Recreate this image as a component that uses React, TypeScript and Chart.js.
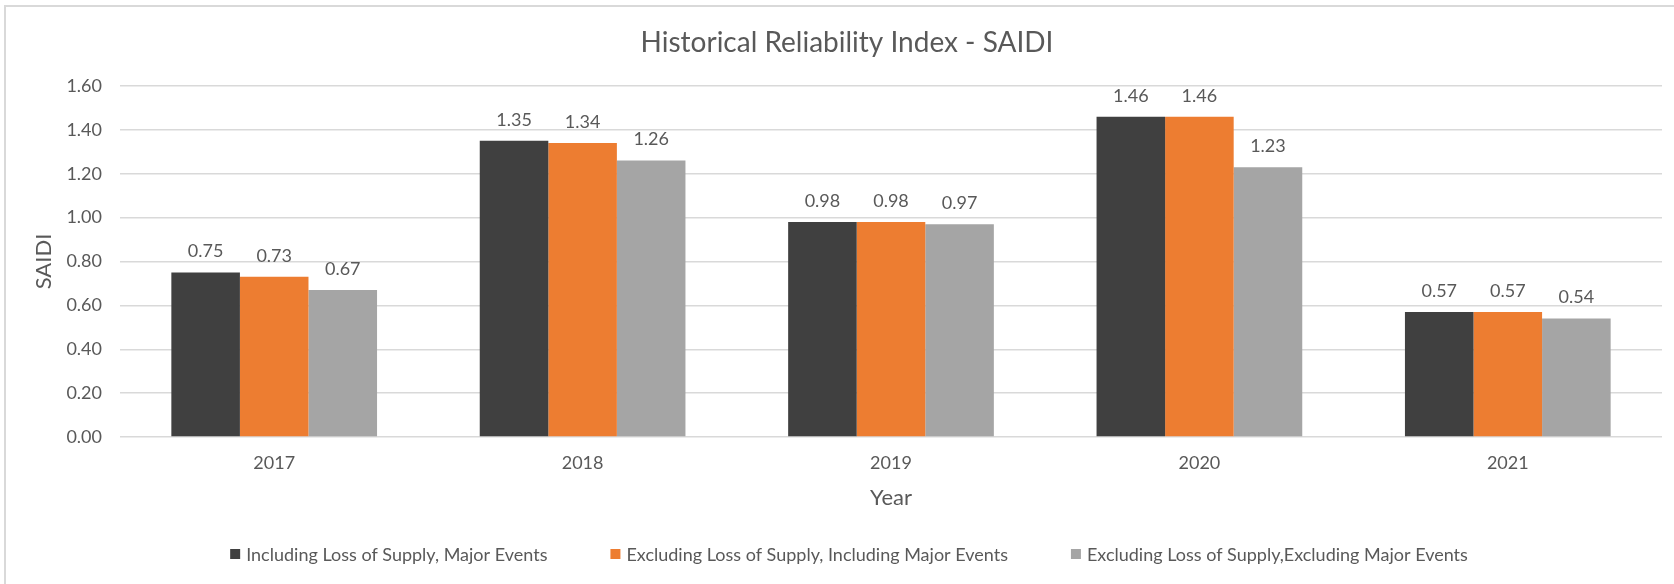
import React, { useEffect, useRef } from "react";
import { Chart, registerables } from "chart.js";

Chart.register(...registerables);

const categories = ["2017", "2018", "2019", "2020", "2021"];
const seriesNames = [
  "Including Loss of Supply, Major Events",
  "Excluding Loss of Supply, Including Major Events",
  "Excluding Loss of Supply,Excluding Major Events",
];
const includingLossIncludingMajor = [0.75, 1.35, 0.98, 1.46, 0.57];
const excludingLossIncludingMajor = [0.73, 1.34, 0.98, 1.46, 0.57];
const excludingLossExcludingMajor = [0.67, 1.26, 0.97, 1.23, 0.54];
const seriesColors = ["#404040", "#ED7D31", "#A5A5A5"];
const yMin = 0;
const yMax = 1.6;
const yStep = 0.2;
const chartTitle = "Historical Reliability Index - SAIDI";
const xAxisTitle = "Year";
const yAxisTitle = "SAIDI";

const FONT = "Lato, 'Open Sans', sans-serif";
const TEXT = "#595959";
const GRID = "#D9D9D9";

const overlayPlugin = {
  id: "overlay",
  beforeDraw(chart: any) {
    const ctx = chart.ctx;
    ctx.save();
    ctx.fillStyle = "#ffffff";
    ctx.fillRect(0, 0, chart.width, chart.height);
    ctx.strokeStyle = GRID;
    ctx.lineWidth = 2;
    ctx.strokeRect(5, 6, chart.width + 20, chart.height + 20);
    ctx.restore();
  },
  afterDatasetsDraw(chart: any) {
    const ctx = chart.ctx;
    ctx.save();
    ctx.font = `18px ${FONT}`;
    ctx.fillStyle = TEXT;
    ctx.textAlign = "center";
    ctx.textBaseline = "middle";
    chart.data.datasets.forEach((ds: any, i: number) => {
      const meta = chart.getDatasetMeta(i);
      meta.data.forEach((el: any, j: number) => {
        ctx.fillText(Number(ds.data[j]).toFixed(2), el.x, el.y - 21);
      });
    });
    ctx.restore();
  },
  afterDraw(chart: any) {
    const ctx = chart.ctx;
    ctx.save();
    // title
    ctx.font = `28px ${FONT}`;
    ctx.fillStyle = TEXT;
    ctx.textAlign = "center";
    ctx.textBaseline = "middle";
    ctx.fillText(chartTitle, 847, 43);
    // legend
    ctx.font = `18px ${FONT}`;
    ctx.textAlign = "left";
    const box = 10;
    const boxGap = 6;
    const itemGap = 63;
    const widths = seriesNames.map((n) => box + boxGap + ctx.measureText(n).width);
    const total = widths.reduce((a, b) => a + b, 0) + itemGap * (widths.length - 1);
    let x = 849 - total / 2;
    const y = 554;
    seriesNames.forEach((n, i) => {
      ctx.fillStyle = seriesColors[i];
      ctx.fillRect(x, y - box / 2, box, box);
      ctx.fillStyle = TEXT;
      ctx.fillText(n, x + box + boxGap, y + 1);
      x += widths[i] + itemGap;
    });
    ctx.restore();
  },
};

export default function App() {
  const canvasRef = useRef<HTMLCanvasElement | null>(null);

  useEffect(() => {
    if (!canvasRef.current) return;
    const seriesData = [
      includingLossIncludingMajor,
      excludingLossIncludingMajor,
      excludingLossExcludingMajor,
    ];
    const chart = new Chart(canvasRef.current, {
      type: "bar",
      data: {
        labels: categories,
        datasets: seriesNames.map((name, i) => ({
          label: name,
          data: seriesData[i],
          backgroundColor: seriesColors[i],
          borderWidth: 0,
          categoryPercentage: 0.667,
          barPercentage: 1.0,
        })),
      },
      options: {
        animation: false,
        responsive: false,
        maintainAspectRatio: false,
        layout: { padding: { top: 86, bottom: 67, left: 0, right: 12 } },
        plugins: {
          legend: { display: false },
          title: { display: false },
          tooltip: { enabled: false },
        },
        scales: {
          x: {
            grid: { display: false, drawTicks: false },
            border: { display: false },
            ticks: { color: TEXT, font: { family: FONT, size: 18 }, padding: 15 },
            title: {
              display: true,
              text: xAxisTitle,
              color: TEXT,
              font: { family: FONT, size: 22 },
              padding: { top: 0, bottom: 6 },
            },
            afterFit: (s: any) => {
              s.height = 80;
            },
          },
          y: {
            min: yMin,
            max: yMax,
            grid: { color: GRID, lineWidth: 1.5, drawTicks: false },
            border: { display: false },
            ticks: {
              stepSize: yStep,
              color: TEXT,
              font: { family: FONT, size: 18 },
              padding: 18,
              callback: (v: any) => Number(v).toFixed(2),
            },
            title: {
              display: true,
              text: yAxisTitle,
              color: TEXT,
              font: { family: FONT, size: 22 },
              padding: { top: 31, bottom: 0 },
            },
            afterFit: (s: any) => {
              s.width = 120;
            },
          },
        },
      },
      plugins: [overlayPlugin],
    });
    return () => chart.destroy();
  }, []);

  return (
    <div style={{ position: "fixed", left: 0, top: 0, width: 1674, height: 584, background: "#fff" }}>
      <canvas ref={canvasRef} width={1674} height={584} style={{ display: "block", width: 1674, height: 584 }} />
    </div>
  );
}
